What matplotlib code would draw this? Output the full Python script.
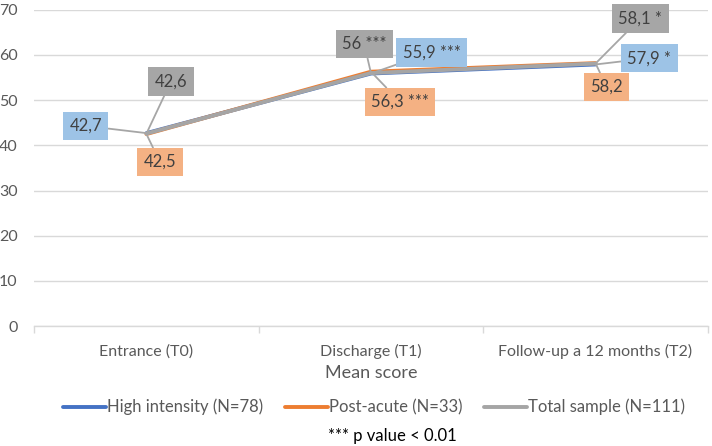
import matplotlib as mpl
import matplotlib.pyplot as plt
import numpy as np

# ========= Data =========
CATEGORIES = ["Entrance (T0)", "Discharge (T1)", "Follow-up a 12 months (T2)"]
SERIES = ["High intensity (N=78)", "Post-acute (N=33)", "Total sample (N=111)"]
HIGH_INTENSITY = [42.7, 55.9, 57.9]
POST_ACUTE = [42.5, 56.3, 58.2]
TOTAL_SAMPLE = [42.6, 56.0, 58.1]
SIGNIF = ["", " ***", " *"]
SIGNIF_POST = ["", " ***", ""]

# ========= Style =========
LINE_COLORS = ["#4472C4", "#ED7D31", "#A5A5A5"]
BOX_COLORS = ["#9DC3E6", "#F4B183", "#A6A6A6"]
TEXT_COLOR = "#595959"
GRID_COLOR = "#D9D9D9"

# label box centres (category index, y value) for each series
LABEL_POS = [
    [(-0.27, 44.3), (1.27, 60.6), (2.24, 59.3)],
    [(0.06, 36.3), (1.13, 49.6), (2.05, 52.9)],
    [(0.11, 54.2), (0.97, 62.4), (2.20, 68.1)],
]


def fmt(v):
    s = f"{v:.1f}"
    if s.endswith(".0"):
        s = s[:-2]
    return s.replace(".", ",")


mpl.rcParams["font.family"] = ["Lato", "DejaVu Sans"]

fig = plt.figure(figsize=(7.12, 4.46), dpi=100)
ax = fig.add_axes([0.048, 0.269, 0.946, 0.709])

x = np.arange(len(CATEGORIES))
all_series = [HIGH_INTENSITY, POST_ACUTE, TOTAL_SAMPLE]
suffixes = [SIGNIF, SIGNIF_POST, SIGNIF]

handles = []
for vals, color, name in zip(all_series, LINE_COLORS, SERIES):
    (h,) = ax.plot(x, vals, color=color, linewidth=2.8, solid_capstyle="round",
                   solid_joinstyle="round", zorder=3)
    handles.append(h)

for vals, sfx, pos, box in zip(all_series, suffixes, LABEL_POS, BOX_COLORS):
    for i, v in enumerate(vals):
        ax.annotate(
            fmt(v) + sfx[i],
            xy=(x[i], v),
            xytext=pos[i],
            textcoords="data",
            ha="center",
            va="center",
            fontsize=12,
            color="#404040",
            bbox={"boxstyle": "square,pad=0.38", "facecolor": box, "edgecolor": "none"},
            arrowprops={"arrowstyle": "-", "color": "#A6A6A6", "linewidth": 1.3,
                        "shrinkA": 0, "shrinkB": 0},
            zorder=5,
        )

ax.set_xlim(-0.5, 2.5)
ax.set_ylim(0, 70)
ax.set_yticks(np.arange(0, 71, 10))
ax.set_xticks(x)
ax.set_xticklabels(CATEGORIES)
ax.set_xticks([-0.5, 0.5, 1.5, 2.5], minor=True)
ax.tick_params(axis="x", which="major", length=0, pad=13, labelsize=11.5, labelcolor=TEXT_COLOR)
ax.tick_params(axis="x", which="minor", length=5, color=GRID_COLOR, width=1)
ax.tick_params(axis="y", length=0, pad=12, labelsize=11.5, labelcolor=TEXT_COLOR)
ax.grid(axis="y", color=GRID_COLOR, linewidth=1)
ax.set_axisbelow(True)
for side in ["left", "right", "top"]:
    ax.spines[side].set_visible(False)
ax.spines["bottom"].set_color(GRID_COLOR)
ax.spines["bottom"].set_linewidth(1)

ax.set_xlabel("Mean score", fontsize=13, color=TEXT_COLOR, labelpad=4)

fig.legend(
    handles,
    SERIES,
    loc="center",
    bbox_to_anchor=(0.525, 0.087),
    ncol=3,
    frameon=False,
    fontsize=12,
    labelcolor=TEXT_COLOR,
    handlelength=2.6,
    handletextpad=0.05,
    columnspacing=1.3,
)
fig.text(0.551, 0.022, "*** p value < 0.01", ha="center", va="center", fontsize=12, color="#000000")

fig.savefig("out.png", dpi=100)
